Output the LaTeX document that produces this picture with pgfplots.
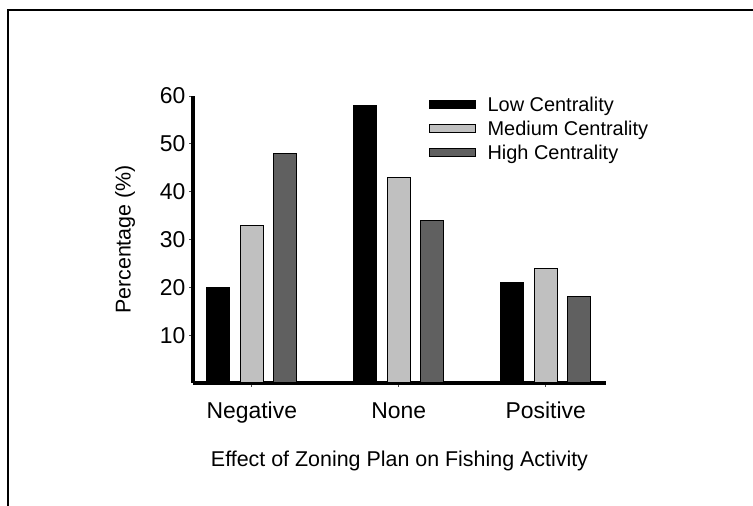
\documentclass[border=0pt]{standalone}
\usepackage{fontspec}
\setmainfont{Liberation Sans}
\usepackage{pgfplots}
\pgfplotsset{compat=1.18}

\definecolor{lowc}{RGB}{0,0,0}
\definecolor{medc}{RGB}{192,192,192}
\definecolor{highc}{RGB}{96,96,96}

\begin{document}
\begin{tikzpicture}
\useasboundingbox (0,0) rectangle (753bp,506bp);
% frame around the figure (only top and left are in view)
\draw[line width=1.2bp] (8bp,0bp) -- (8bp,496bp) -- (753bp,496bp);
\begin{axis}[
    at={(193bp,123bp)}, anchor=south west,
    scale only axis, width=413bp, height=287bp,
    xmin=-0.4, xmax=2.41, ymin=0, ymax=60,
    axis x line*=bottom, axis y line*=left,
    axis line style={line width=3.2bp, -},
    ybar=10.5bp, bar width=23bp,
    xtick={0,1,2}, xticklabels={Negative,None,Positive},
    ytick={10,20,30,40,50,60},
    tick align=outside, major tick length=4bp,
    tick style={line width=0.8bp, black!70},
    /pgf/number format/assume math mode=true,
    ticklabel style={font=\fontsize{23}{27}\selectfont},
    xticklabel style={yshift=-20bp, text height=1.6ex, text depth=0.5ex},
    xlabel={Effect of Zoning Plan on Fishing Activity},
    ylabel={Percentage (\%)},
    label style={font=\fontsize{21.5}{26}\selectfont},
    xlabel style={yshift=-23bp},
    ylabel style={yshift=18bp},
    legend style={at={(0.57,1.005)}, anchor=north west, draw=none, fill=none,
        font=\fontsize{20}{24}\selectfont, row sep=4bp, inner sep=0pt,
        /tikz/every odd column/.append style={column sep=10bp}},
    legend cell align=left,
    legend image code/.code={\draw[#1] (0bp,-4bp) rectangle (46bp,4bp);},
    every axis plot/.append style={draw=black, line width=1bp},
]
\addplot[fill=lowc] coordinates {(0,20) (1,58) (2,21)};
\addplot[fill=medc] coordinates {(0,33) (1,43) (2,24)};
\addplot[fill=highc] coordinates {(0,48) (1,34) (2,18)};
\legend{Low Centrality, Medium Centrality, High Centrality}
\end{axis}
\end{tikzpicture}
\end{document}
